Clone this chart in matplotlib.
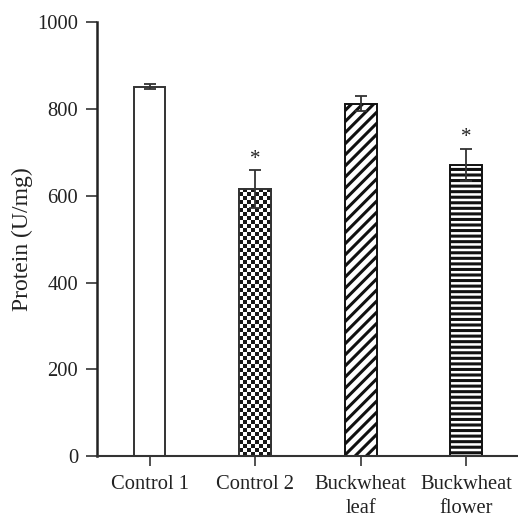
import matplotlib.pyplot as plt
import matplotlib
import numpy as np

matplotlib.rcParams['font.family'] = ['Liberation Serif', 'DejaVu Serif']
matplotlib.rcParams['hatch.linewidth'] = 2.2

# data
groups = ['Control 1', 'Control 2', 'Buckwheat\nleaf', 'Buckwheat\nflower']
protein = [852, 616, 813, 671]
errors = [6, 43, 17, 37]
significant = [False, True, False, True]

fig = plt.figure(figsize=(5.18, 5.17), dpi=100)
ax = fig.add_axes([0.187, 0.118, 0.811, 0.8385])

x = np.arange(len(groups))
edge = '#333333'
bars = ax.bar(x, protein, width=0.3, color='white', edgecolor=edge, linewidth=1.4, zorder=2)

# patterns: plain, checkerboard, diagonal, horizontal
bars[2].set_hatch('///')
bars[3].set_hatch('---')
for b in bars[2:]:
    b.set_edgecolor('#111111')
    b.set_linewidth(1.4)

# checkerboard for control 2 as a clipped image
b = bars[1]
ncol = 8
nrow = int(round(b.get_height() / 9.2))
checker = (np.add.outer(np.arange(nrow), np.arange(ncol)) % 2).astype(float)
img = ax.imshow(checker, cmap='gray_r', interpolation='nearest', aspect='auto',
                extent=(b.get_x(), b.get_x() + b.get_width(), 0, b.get_height()),
                vmin=0, vmax=1.1, zorder=2.5)
img.set_clip_path(b)
ax.bar(x[1], protein[1], width=0.3, color='none', edgecolor=edge, linewidth=1.4, zorder=3)

ax.errorbar(x, protein, yerr=errors, fmt='none', ecolor='#333333', elinewidth=1.3,
            capsize=4, capthick=1.3, zorder=4)

for xi, v, e, s in zip(x, protein, errors, significant):
    if s:
        ax.text(xi, v + e + 4, '*', ha='center', va='bottom', fontsize=15, color='#222222')

ax.set_xlim(-0.5, 3.48)
ax.set_ylim(0, 1000)
ax.set_yticks([0, 200, 400, 600, 800, 1000])
ax.set_xticks(x)
ax.set_xticklabels(groups, fontsize=14.8, color='#222222', linespacing=1.4)
ax.tick_params(axis='y', labelsize=14.8, labelcolor='#222222', length=8, width=1.2,
               color='#333333', pad=5.5)
ax.tick_params(axis='x', length=7.5, width=1.2, color='#333333', pad=6)
ax.set_ylabel('Protein (U/mg)', fontsize=17, color='#222222')
ax.yaxis.set_label_coords(-0.153, 0.5)

ax.spines['top'].set_visible(False)
ax.spines['right'].set_visible(False)
ax.spines['left'].set_linewidth(1.8)
ax.spines['bottom'].set_linewidth(1.5)
ax.spines['left'].set_color('#222222')
ax.spines['bottom'].set_color('#333333')

fig.savefig('out.png', dpi=100)
